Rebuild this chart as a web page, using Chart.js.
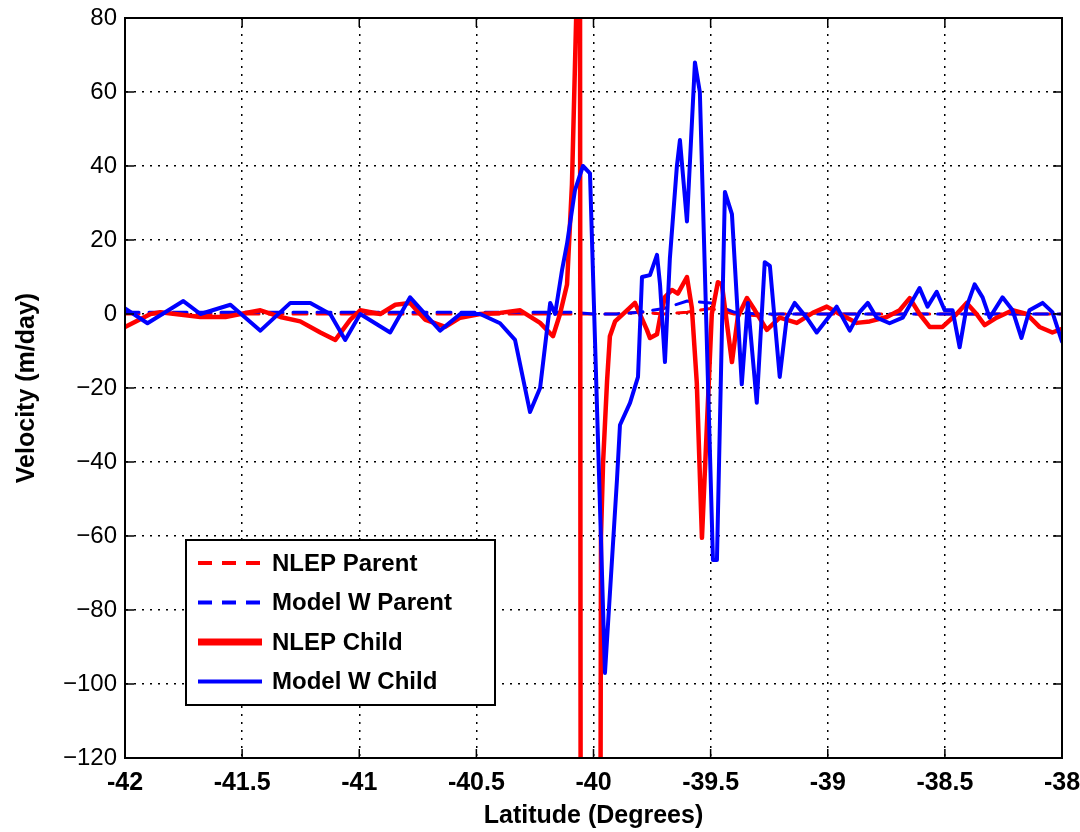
<!DOCTYPE html>
<html>
<head>
<meta charset="utf-8">
<script src="https://cdn.jsdelivr.net/npm/chart.js@4.4.1/dist/chart.umd.min.js"></script>
<style>
  html, body { margin: 0; padding: 0; background: #ffffff; }
  #wrap { width: 1080px; height: 832px; }
</style>
</head>
<body>
<div id="wrap"><canvas id="chart" width="1080" height="832"></canvas></div>
<script>
// series labels
const seriesNames = ['NLEP Parent', 'Model W Parent', 'NLEP Child', 'Model W Child'];

// parent runs (coarse grid, 0.1 deg)
const parentLat = [-42, -41.9, -41.8, -41.7, -41.6, -41.5, -41.4, -41.3, -41.2, -41.1,
  -41, -40.9, -40.8, -40.7, -40.6, -40.5, -40.4, -40.3, -40.2, -40.1,
  -40, -39.9, -39.8, -39.7, -39.6, -39.5, -39.4, -39.3, -39.2, -39.1,
  -39, -38.9, -38.8, -38.7, -38.6, -38.5, -38.4, -38.3, -38.2, -38.1, -38];
const nlepParent = [0, 0, 0, 0, 0, 0, 0, 0, 0, 0,
  0, 0, 0, 0, 0, 0, 0, 0, 0, 0,
  0, 0, 0.5, 0, 0.5, 1.5, 0, -0.5, 0, 0,
  0, 0, 0, 0, 0, 0, 0, 0, 0, 0, 0];
const modelWParent = [0.5, 0.5, 0.5, 0.5, 0.5, 0.5, 0.5, 0.5, 0.5, 0.5,
  0.5, 0.5, 0.5, 0.5, 0.5, 0.5, 0.5, 0.5, 0.5, 0.5,
  0, 0, 0.5, 1.5, 3.5, 3, 0.5, 0, 0, 0,
  0, 0, 0, 0, 0, 0, 0, 0, 0, 0, 0];

// NLEP child run
const nlepChildLat = [-42, -41.891, -41.849, -41.678, -41.571, -41.507, -41.422, -41.337, -41.252, -41.166,
  -41.102, -41.038, -40.996, -40.91, -40.846, -40.783, -40.719, -40.633, -40.569, -40.484,
  -40.399, -40.313, -40.228, -40.173, -40.143, -40.113, -40.092, -40.07, -40.06, -40.053,
  -39.975, -39.968, -39.959, -39.942, -39.93, -39.908, -39.857, -39.823, -39.772, -39.759,
  -39.729, -39.716, -39.695, -39.665, -39.64, -39.601, -39.58, -39.559, -39.537, -39.495,
  -39.469, -39.452, -39.409, -39.384, -39.345, -39.311, -39.26, -39.205, -39.132, -39.064,
  -39.004, -38.949, -38.876, -38.821, -38.748, -38.693, -38.65, -38.608, -38.565, -38.51,
  -38.45, -38.407, -38.365, -38.33, -38.279, -38.211, -38.151, -38.096, -38.041, -38];
const nlepChild = [-3.5, 0, 0.5, -0.8, -0.8, 0, 1, -0.8, -2, -5,
  -7, -1.5, 1, 0, 2.5, 3, -1.5, -3.5, -1, 0,
  0.3, 1, -2.4, -6, 0, 8, 35, 90, 300, -300,
  -300, -60, -40, -18, -6, -2, 1, 3, -4.3, -6.5,
  -5.5, -1, 4.6, 6.5, 5.5, 10, 1.6, -18.6, -60.5, 0,
  8.6, 8, -13, -0.8, 4.3, 1, -4.3, -1, -2.4, 0.3,
  2, 0, -2.4, -2, -0.8, 1, 4.3, 0, -3.5, -3.5,
  0, 3, 0, -3, -1, 1, 0, -3.5, -5, -4];

// Model W child run
const modelWChildLat = [-42, -41.904, -41.751, -41.678, -41.55, -41.422, -41.294, -41.209, -41.124, -41.06,
  -40.996, -40.868, -40.783, -40.655, -40.569, -40.484, -40.399, -40.335, -40.271, -40.228,
  -40.185, -40.164, -40.134, -40.113, -40.079, -40.045, -40.015, -39.951, -39.9, -39.887,
  -39.844, -39.81, -39.793, -39.759, -39.729, -39.716, -39.695, -39.674, -39.644, -39.631,
  -39.601, -39.567, -39.546, -39.49, -39.473, -39.439, -39.409, -39.367, -39.341, -39.303,
  -39.269, -39.247, -39.205, -39.175, -39.141, -39.09, -39.047, -39.004, -38.962, -38.906,
  -38.864, -38.829, -38.791, -38.736, -38.68, -38.608, -38.574, -38.535, -38.501, -38.467,
  -38.437, -38.407, -38.373, -38.339, -38.309, -38.254, -38.211, -38.173, -38.139, -38.083,
  -38.041, -38];
const modelWChild = [1.5, -2.5, 3.5, 0, 2.5, -4.5, 3, 3, 0, -7,
  0, -5, 4.5, -4.5, 0, 0, -2.5, -7, -26.5, -20,
  3, 0, 12, 19, 33.5, 40, 38, -97, -45, -30,
  -24, -17, 10, 10.5, 16, 8, -13, 15, 40, 47,
  25, 68, 60, -66.5, -66.5, 33, 27, -19, 3, -24,
  14, 13, -17, -1, 3, -1, -5, -1.5, 2, -4.5,
  0.5, 3, -1, -2.5, -1, 7, 2, 6, 1, 1,
  -9, 2, 8, 4.5, -1, 4.5, 1, -6.5, 1, 3,
  0.5, -7.5];

const xTicks = [-42, -41.5, -41, -40.5, -40, -39.5, -39, -38.5, -38];
const yTicks = [-120, -100, -80, -60, -40, -20, 0, 20, 40, 60, 80];

const RED = '#ff0000';
const BLUE = '#0000ff';
const FONT = "'Liberation Sans', Arial, Helvetica, sans-serif";

function pairs(xs, ys) {
  return xs.map((x, i) => ({ x: x, y: ys[i] }));
}

// Box on top and right plus MATLAB style inner tick marks
const matlabFrame = {
  id: 'matlabFrame',
  afterDatasetsDraw(chart) {
    const { ctx, chartArea: a, scales } = chart;
    ctx.save();
    ctx.strokeStyle = '#000';
    ctx.lineWidth = 2;
    ctx.strokeRect(a.left, a.top, a.right - a.left, a.bottom - a.top);
    ctx.lineWidth = 1.5;
    ctx.beginPath();
    xTicks.forEach(v => {
      const px = scales.x.getPixelForValue(v);
      ctx.moveTo(px, a.bottom); ctx.lineTo(px, a.bottom - 9);
      ctx.moveTo(px, a.top); ctx.lineTo(px, a.top + 9);
    });
    yTicks.forEach(v => {
      const py = scales.y.getPixelForValue(v);
      ctx.moveTo(a.left, py); ctx.lineTo(a.left + 9, py);
      ctx.moveTo(a.right, py); ctx.lineTo(a.right - 9, py);
    });
    ctx.stroke();
    ctx.restore();
  }
};

// Legend box drawn inside the axes, lower left
const boxLegend = {
  id: 'boxLegend',
  afterDraw(chart) {
    const { ctx, chartArea: a } = chart;
    const left = a.left + 61, top = a.top + 522, w = 309, h = 165;
    ctx.save();
    ctx.fillStyle = '#fff';
    ctx.fillRect(left, top, w, h);
    ctx.strokeStyle = '#000';
    ctx.lineWidth = 2;
    ctx.strokeRect(left, top, w, h);
    ctx.font = 'bold 24px ' + FONT;
    ctx.textBaseline = 'middle';
    chart.data.datasets.forEach((ds, i) => {
      const y = top + 23 + i * 39.5;
      ctx.beginPath();
      ctx.strokeStyle = ds.borderColor;
      ctx.lineWidth = i === 2 ? 7 : 4;
      ctx.setLineDash(ds.borderDash || []);
      ctx.moveTo(left + 12, y);
      ctx.lineTo(left + 76, y);
      ctx.stroke();
      ctx.setLineDash([]);
      ctx.fillStyle = '#000';
      ctx.fillText(ds.label, left + 86, y + 1);
    });
    ctx.restore();
  }
};

const config = {
  type: 'line',
  data: {
    datasets: [
      {
        label: seriesNames[0],
        data: pairs(parentLat, nlepParent),
        borderColor: RED,
        borderWidth: 3,
        borderDash: [14, 10],
        order: 3
      },
      {
        label: seriesNames[1],
        data: pairs(parentLat, modelWParent),
        borderColor: BLUE,
        borderWidth: 3,
        borderDash: [14, 10],
        order: 2
      },
      {
        label: seriesNames[2],
        data: pairs(nlepChildLat, nlepChild),
        borderColor: RED,
        borderWidth: 4.5,
        order: 1
      },
      {
        label: seriesNames[3],
        data: pairs(modelWChildLat, modelWChild),
        borderColor: BLUE,
        borderWidth: 4,
        order: 0
      }
    ]
  },
  options: {
    responsive: false,
    animation: false,
    events: [],
    elements: {
      point: { radius: 0 },
      line: { tension: 0, fill: false, borderJoinStyle: 'round', borderCapStyle: 'round' }
    },
    layout: { padding: { left: 0, right: 18, top: 18, bottom: 0 } },
    plugins: {
      legend: { display: false },
      tooltip: { enabled: false }
    },
    scales: {
      x: {
        type: 'linear',
        min: -42,
        max: -38,
        afterFit: s => { s.height = 74; s.paddingLeft = 0; s.paddingRight = 0; },
        afterBuildTicks: s => { s.ticks = xTicks.map(v => ({ value: v })); },
        ticks: {
          color: '#000',
          padding: 10,
          maxRotation: 0,
          font: { family: FONT, size: 25, weight: 'bold' },
          callback: v => String(v)
        },
        grid: {
          color: '#000',
          lineWidth: 1.5,
          drawTicks: false
        },
        border: { display: true, color: '#000', width: 2, dash: [2, 6] },
        title: {
          display: true,
          text: 'Latitude (Degrees)',
          color: '#000',
          font: { family: FONT, size: 25, weight: 'bold', lineHeight: 1.2 },
          padding: { top: 0, bottom: 1 }
        }
      },
      y: {
        type: 'linear',
        min: -120,
        max: 80,
        afterFit: s => { s.width = 125; s.paddingTop = 0; s.paddingBottom = 0; },
        afterBuildTicks: s => { s.ticks = yTicks.map(v => ({ value: v })); },
        ticks: {
          color: '#000',
          padding: 8,
          font: { family: FONT, size: 24 },
          callback: v => String(v).replace('-', '\u2212')
        },
        grid: {
          color: '#000',
          lineWidth: 1.5,
          drawTicks: false
        },
        border: { display: true, color: '#000', width: 2, dash: [2, 6] },
        title: {
          display: true,
          text: 'Velocity (m/day)',
          color: '#000',
          font: { family: FONT, size: 25, weight: 'bold', lineHeight: 1.2 },
          padding: { top: 12, bottom: 0 }
        }
      }
    }
  },
  plugins: [matlabFrame, boxLegend]
};

new Chart(document.getElementById('chart'), config);
</script>
</body>
</html>
